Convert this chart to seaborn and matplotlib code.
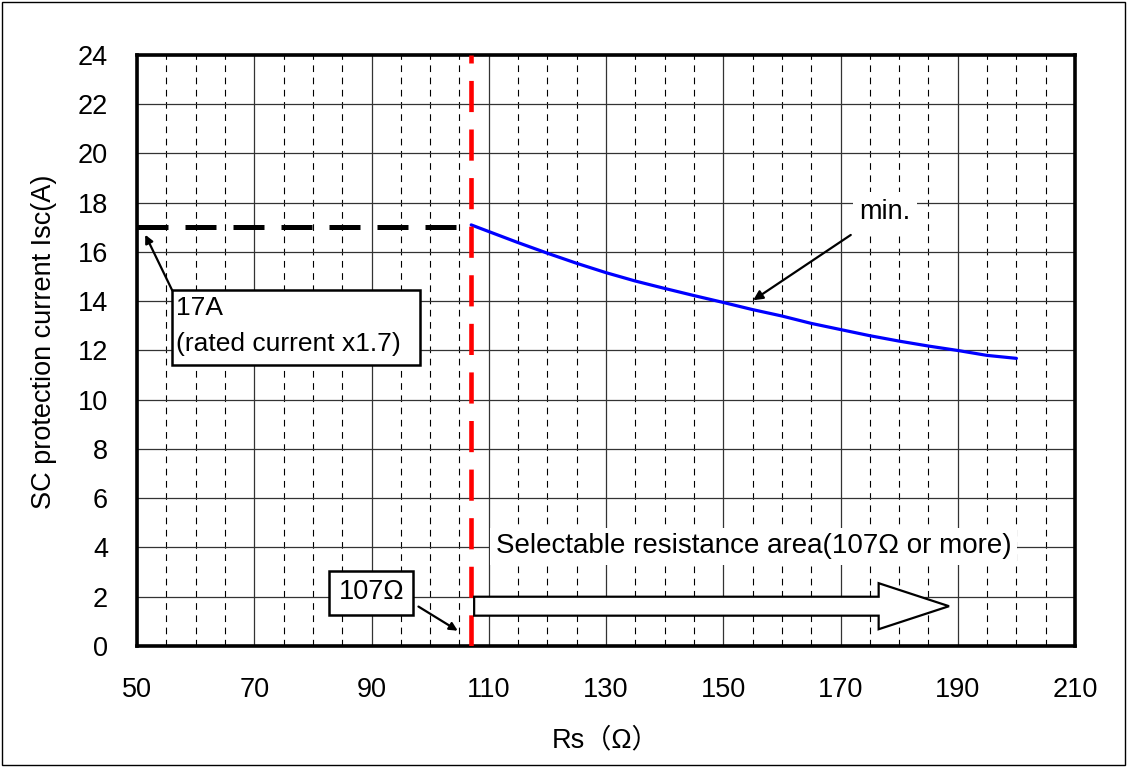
import matplotlib
matplotlib.use("Agg")
import matplotlib.pyplot as plt
from matplotlib.patches import Rectangle, FancyArrow
from matplotlib.ticker import MultipleLocator
import pandas as pd
import seaborn as sns

# Minimum short-circuit protection current vs. sense resistance
rs_ohm = [107, 110, 115, 120, 125, 130, 135, 140, 145, 150,
          155, 160, 165, 170, 175, 180, 185, 190, 195, 200]
isc_min = [17.10, 16.83, 16.38, 15.95, 15.54, 15.16, 14.82, 14.52, 14.23, 13.95,
           13.66, 13.40, 13.10, 12.85, 12.60, 12.38, 12.18, 12.00, 11.80, 11.68]

rated_limit_x = [50, 107]
rated_limit_y = [17, 17]
rs_threshold = 107

x_ticks = [50, 70, 90, 110, 130, 150, 170, 190, 210]
y_ticks = [0, 2, 4, 6, 8, 10, 12, 14, 16, 18, 20, 22, 24]

df = pd.DataFrame({"Rs": rs_ohm, "Isc": isc_min})

sns.set_theme(style="white")
plt.rcParams["font.family"] = ["Liberation Sans", "Noto Sans CJK JP", "DejaVu Sans"]
plt.rcParams["text.color"] = "black"
plt.rcParams["axes.labelcolor"] = "black"

FS = 19.5

fig = plt.figure(figsize=(11.27, 7.67), dpi=100)
ax = fig.add_axes([0.1216, 0.1578, 0.8323, 0.7705])

ax.set_xlim(50, 210)
ax.set_ylim(0, 24)
ax.set_xticks(x_ticks)
ax.set_yticks(y_ticks)
ax.xaxis.set_minor_locator(MultipleLocator(5))

# Grid: solid major lines, dashed vertical minor lines
ax.grid(which="major", axis="both", color="#333333", linewidth=0.9, linestyle="-")
ax.grid(which="minor", axis="x", color="black", linewidth=0.8, linestyle=(0, (6, 5)))
ax.set_axisbelow(True)

ax.tick_params(axis="both", which="both", length=0, labelsize=FS, colors="black")
ax.tick_params(axis="x", pad=22)
ax.tick_params(axis="y", pad=21)

for s in ax.spines.values():
    s.set_linewidth(2.6)
    s.set_color("black")

# 17 A rated-current limit
ax.plot(rated_limit_x, rated_limit_y, color="black", linewidth=3.6,
        linestyle=(0, (6.2, 3.4)), dash_capstyle="butt", zorder=3)

# Minimum Isc curve
sns.lineplot(data=df, x="Rs", y="Isc", ax=ax, color="#0000FF", linewidth=2.3, zorder=4)

# Resistance threshold
ax.axvline(rs_threshold, color="#FF0000", linewidth=3.3,
           linestyle=(0, (6.8, 3.8)), dash_capstyle="butt", zorder=5)

ax.set_xlabel("Rs（Ω）", fontsize=FS, labelpad=18)
ax.set_ylabel("SC protection current Isc(A)", fontsize=FS)
ax.yaxis.set_label_coords(-0.085, 0.515)

# "min." label
ax.annotate("min.", xy=(155.1, 14.04), xytext=(173.2, 17.62),
            fontsize=FS, ha="left", va="center",
            bbox=dict(boxstyle="square,pad=0.25", fc="white", ec="none"),
            arrowprops=dict(arrowstyle="-|>", color="black", lw=1.6,
                            mutation_scale=14, shrinkA=4, shrinkB=0),
            zorder=6)

# 17 A callout box
ax.add_patch(Rectangle((55.97, 11.4), 42.3, 3.04, facecolor="white",
                       edgecolor="black", linewidth=1.8, zorder=6))
ax.text(56.6, 13.72, "17A", fontsize=FS - 0.5, ha="left", va="center", zorder=7)
ax.text(56.6, 12.25, "(rated current x1.7)", fontsize=FS - 0.5, ha="left", va="center", zorder=7)
ax.annotate("", xy=(51.4, 16.7), xytext=(56.0, 14.44),
            arrowprops=dict(arrowstyle="-|>", color="black", lw=1.6,
                            mutation_scale=12, shrinkA=0, shrinkB=0),
            zorder=7)

# 107 Ω callout box
ax.add_patch(Rectangle((82.76, 1.26), 14.34, 1.78, facecolor="white",
                       edgecolor="black", linewidth=1.8, zorder=6))
ax.text(89.93, 2.2, "107Ω", fontsize=FS, ha="center", va="center", zorder=7)
ax.annotate("", xy=(104.7, 0.62), xytext=(98.0, 1.6),
            arrowprops=dict(arrowstyle="-|>", color="black", lw=1.6,
                            mutation_scale=12, shrinkA=0, shrinkB=0),
            zorder=7)

# Selectable area label and block arrow
ax.text(111.2, 4.05, "Selectable resistance area(107Ω or more)", fontsize=FS + 0.5,
        ha="left", va="center",
        bbox=dict(boxstyle="square,pad=0.2", fc="white", ec="none"), zorder=6)
ax.add_patch(FancyArrow(107.5, 1.615, 81.0, 0, width=0.77, head_width=1.87,
                        head_length=12.0, length_includes_head=True,
                        facecolor="white", edgecolor="black", linewidth=1.6, zorder=6))

# Outer frame
fig.patches.append(Rectangle((0.002, 0.002), 0.996, 0.995, transform=fig.transFigure,
                             fill=False, edgecolor="black", linewidth=1.0))

fig.savefig("out.png", dpi=100, facecolor="white")
